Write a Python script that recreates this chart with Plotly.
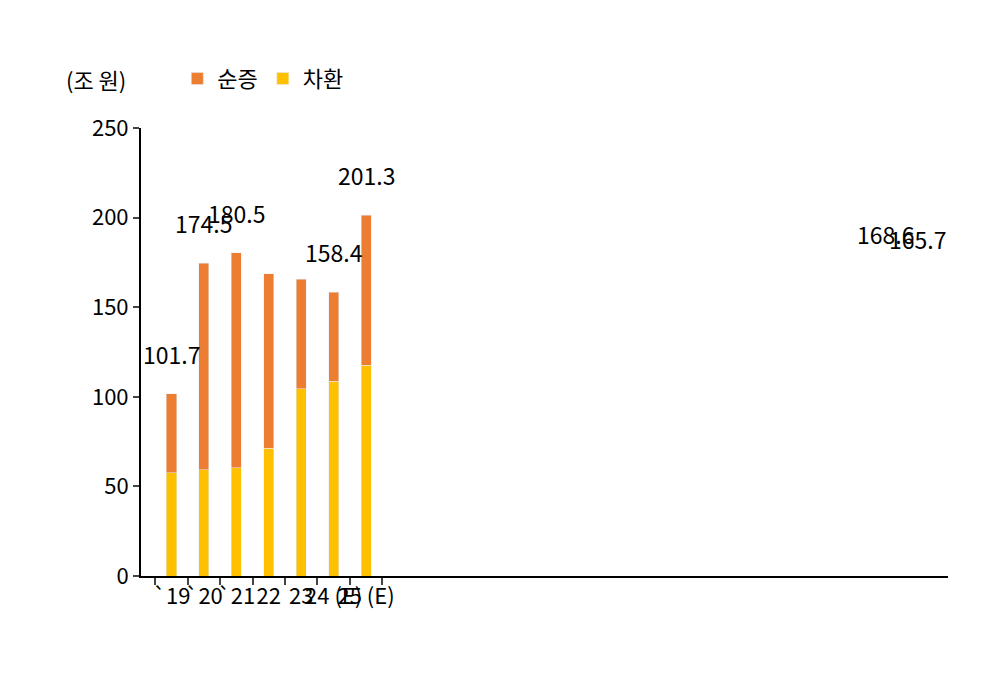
import plotly.graph_objects as go

categories = ["`19", "`20", "`21", "22", "23", "24 (E)", "25 (E)"]
totals = [101.7, 174.5, 180.5, 168.6, 165.7, 158.4, 201.3]
replace = [57.5, 59.2, 60.3, 71.4, 104.4, 108.8, 117.7]  # 차환
net_new = [round(t - r, 1) for t, r in zip(totals, replace)]  # 순증

FONT = "Noto Sans CJK KR"

fig = go.Figure()
fig.add_trace(go.Bar(x=categories, y=replace, name="차환", marker_color="#FFC000", width=0.31))
fig.add_trace(go.Bar(x=categories, y=net_new, name="순증", marker_color="#ED7D31", width=0.31))

for c, t in zip(categories, totals):
    fig.add_annotation(x=c, y=t, text=f"{t:.1f}", showarrow=False, yshift=40,
                       font=dict(size=23, color="black", family=FONT))

fig.add_annotation(x=-0.095, y=1.11, xref="paper", yref="paper", text="(조 원)", showarrow=False,
                   xanchor="left", yanchor="middle", font=dict(size=22, color="black", family=FONT))

fig.update_layout(
    width=991, height=676, barmode="stack",
    margin=dict(l=133, r=51, t=120, b=108),
    plot_bgcolor="white", paper_bgcolor="white",
    font=dict(family=FONT, size=22, color="black"),
    legend=dict(orientation="h", x=0.045, y=1.11, xanchor="left", yanchor="middle",
                traceorder="reversed", font=dict(size=22), itemwidth=30),
    showlegend=True,
)
fig.update_yaxes(range=[0, 250], dtick=50, showline=True, linecolor="black", linewidth=2,
                 ticks="outside", ticklen=6, tickwidth=2, showgrid=False, zeroline=False)
fig.update_xaxes(type="category", showline=True, linecolor="black", linewidth=2, ticks="outside",
                 tickson="boundaries", ticklen=7, tickwidth=2, showgrid=False, tickangle=0)

fig.write_html("out.html")
